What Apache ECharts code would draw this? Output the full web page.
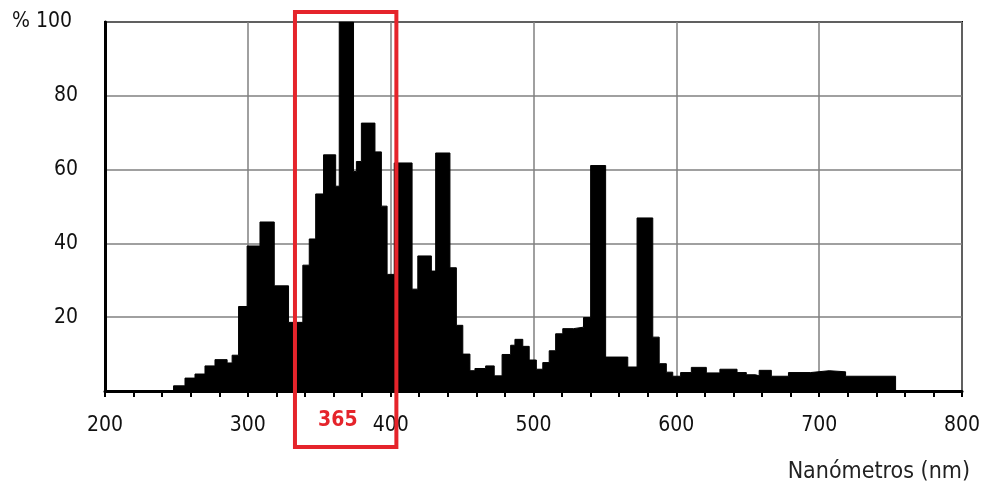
<!DOCTYPE html>
<html>
<head>
<meta charset="utf-8">
<script src="https://cdn.jsdelivr.net/npm/echarts@6/dist/echarts.min.js"></script>
<style>
html,body{margin:0;padding:0;background:#fff;}
#chart{width:987px;height:483px;}
</style>
</head>
<body>
<div id="chart"></div>
<script>
// Bin start wavelengths (nm) and relative intensity (%) of each bin
var binStartsNm = [200, 248, 256, 263, 270, 277, 285.5, 289, 293.5, 299.5, 308.5, 318.5, 328.5, 338.5, 343, 347.5, 353, 361.5, 364, 374, 376, 379.5, 389, 393.5, 397.5, 402.5, 415, 419, 428.5, 431.5, 441.5, 446, 450.5, 455.5, 459, 466.5, 472.5, 478, 484, 487, 492.5, 497, 502, 506.5, 511, 515.5, 520.5, 528, 535, 540, 550.5, 566, 572.5, 583.5, 588, 593, 597.5, 603, 610.5, 621, 630.5, 642.5, 649, 655.5, 658, 666.5, 678.5, 694, 707, 718.5, 753.5];
var intensities = [0, 1.4, 3.5, 4.6, 6.8, 8.5, 7.6, 9.7, 22.9, 39.3, 45.8, 28.5, 18.6, 34.1, 41.2, 53.4, 64, 55.5, 100, 59.5, 62.2, 72.6, 64.8, 50.1, 31.6, 61.8, 27.6, 36.6, 32.5, 64.5, 33.4, 17.8, 10, 5.5, 6.1, 6.8, 4.1, 9.9, 12.4, 14, 12.1, 8.4, 5.9, 7.7, 10.9, 15.5, 16.9, 17.3, 19.9, 61.1, 9.2, 6.5, 46.9, 14.6, 7.4, 5.1, 4, 5, 6.4, 4.9, 5.9, 5, 4.4, 4.1, 5.6, 4, 5, 5.5, 5.2, 4, 0];
var xTicks = [200, 300, 400, 500, 600, 700, 800];
var yTicks = [0, 20, 40, 60, 80, 100];
var xAxisTitle = 'Nanómetros (nm)';
var highlightRangeNm = [333, 404];
var highlightLabel = '365';
var highlightLabelNm = 363;

var chart = echarts.init(document.getElementById('chart'), null, {renderer: 'canvas'});
var seriesData = binStartsNm.map(function (x, i) { return [x, intensities[i]]; });
var font = '"DejaVu Sans Condensed", "DejaVu Sans"';

chart.setOption({
  animation: false,
  backgroundColor: '#ffffff',
  grid: {left: 105, right: 25, top: 22, bottom: 92, show: true, borderColor: '#000', borderWidth: 2, backgroundColor: 'transparent'},
  title: {
    text: xAxisTitle, right: 12, top: 456,
    textStyle: {fontFamily: font, fontSize: 23, fontWeight: 'normal', color: '#222'}
  },
  xAxis: {
    type: 'value', min: xTicks[0], max: xTicks[xTicks.length - 1], interval: 100,
    axisLine: {show: true, lineStyle: {color: '#000', width: 3}},
    axisTick: {show: true, length: 6, lineStyle: {color: '#000', width: 2}},
    minorTick: {show: true, splitNumber: 5, length: 6, lineStyle: {color: '#000', width: 2}},
    splitLine: {show: true, lineStyle: {color: '#808080', width: 1.5}},
    axisLabel: {fontFamily: font, fontSize: 21, color: '#111', margin: 24}
  },
  yAxis: {
    type: 'value', min: yTicks[0], max: yTicks[yTicks.length - 1], interval: 20,
    axisLine: {show: true, lineStyle: {color: '#000', width: 3}},
    axisTick: {show: false},
    splitLine: {show: true, lineStyle: {color: '#808080', width: 1.5}},
    axisLabel: {
      fontFamily: font, fontSize: 21, color: '#111', margin: 27,
      formatter: function (v) { if (v === 0) return ''; if (v === 100) return '{p|% 100}'; return String(v); },
      rich: {p: {fontFamily: font, fontSize: 21, color: '#111', padding: [0, 6, 0, 0]}}
    }
  },
  series: [{
    type: 'line',
    step: 'end',
    symbol: 'none',
    data: seriesData,
    lineStyle: {color: '#000', width: 1},
    areaStyle: {color: '#000', opacity: 1, origin: 'start'},
    z: 3
  }]
});

var x0 = chart.convertToPixel({xAxisIndex: 0}, highlightRangeNm[0]);
var x1 = chart.convertToPixel({xAxisIndex: 0}, highlightRangeNm[1]);
var yTop = chart.convertToPixel({yAxisIndex: 0}, 100) - 10;
var yBase = chart.convertToPixel({yAxisIndex: 0}, 0);
var yBot = yBase + 56;
var xl = chart.convertToPixel({xAxisIndex: 0}, highlightLabelNm);

chart.setOption({
  graphic: [
    {type: 'rect', z: 100, shape: {x: x0, y: yTop, width: x1 - x0, height: yBot - yTop},
     style: {fill: 'none', stroke: '#e5242b', lineWidth: 4}},
    {type: 'text', z: 100, x: xl, y: yBase + 30,
     style: {text: highlightLabel, fill: '#e5242b', font: '600 21px "DejaVu Sans Condensed", "DejaVu Sans"', textAlign: 'center', textVerticalAlign: 'middle'}}
  ]
});
</script>
</body>
</html>
